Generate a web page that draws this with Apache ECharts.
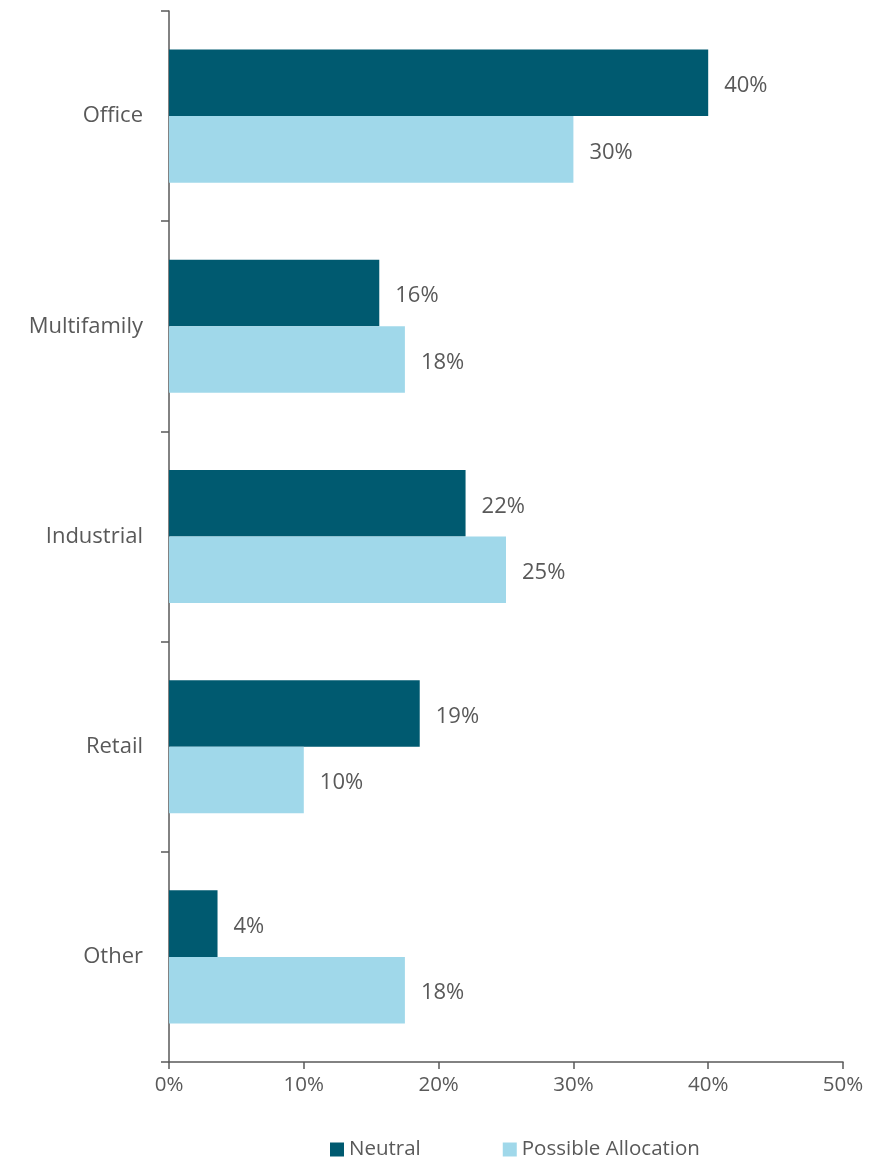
<!DOCTYPE html>
<html>
<head>
<meta charset="utf-8">
<script src="https://cdn.jsdelivr.net/npm/echarts@6/dist/echarts.min.js"></script>
<style>
  html, body { margin: 0; padding: 0; background: #fff; }
  #main { width: 878px; height: 1157px; }
</style>
</head>
<body>
<div id="main"></div>
<script>
const categories = ['Office', 'Multifamily', 'Industrial', 'Retail', 'Other']
const neutral = [40, 15.6, 22, 18.6, 3.6]
const possibleAllocation = [30, 17.5, 25, 10, 17.5]
const xTicks = [0, 10, 20, 30, 40, 50]

const AXIS_COLOR = '#595959'
const TEXT_COLOR = '#595959'
const FONT = '"Open Sans", "Noto Sans", sans-serif'

const chart = echarts.init(document.getElementById('main'))

const labelStyle = {
  show: true,
  position: 'right',
  distance: 16,
  offset: [0, 3],
  color: TEXT_COLOR,
  fontSize: 22,
  fontFamily: FONT,
  formatter: p => Math.round(p.value) + '%',
}

const option = {
  animation: false,
  textStyle: { fontFamily: FONT },
  grid: { left: 169, right: 35, top: 11, bottom: 95 },
  legend: {
    bottom: -3,
    left: 330,
    padding: 0,
    itemWidth: 14,
    itemHeight: 14,
    itemGap: 82,
    icon: 'rect',
    textStyle: { color: TEXT_COLOR, fontSize: 20.5, fontFamily: FONT },
    data: ['Neutral', 'Possible Allocation'],
  },
  xAxis: {
    type: 'value',
    min: xTicks[0],
    max: xTicks[xTicks.length - 1],
    interval: 10,
    splitLine: { show: false },
    axisLine: { show: true, lineStyle: { color: AXIS_COLOR, width: 1.5 } },
    axisTick: { show: true, length: 7, lineStyle: { color: AXIS_COLOR, width: 1.5 } },
    axisLabel: {
      color: TEXT_COLOR,
      fontSize: 20.5,
      fontFamily: FONT,
      margin: 13,
      formatter: v => v + '%',
    },
  },
  yAxis: {
    type: 'category',
    inverse: true,
    data: categories,
    axisLine: { show: true, lineStyle: { color: AXIS_COLOR, width: 1.5 } },
    axisTick: { show: true, length: 8, lineStyle: { color: AXIS_COLOR, width: 1.5 } },
    axisLabel: {
      color: TEXT_COLOR,
      fontSize: 22,
      fontFamily: FONT,
      margin: 26,
      padding: [4, 0, 0, 0],
    },
  },
  series: [
    {
      name: 'Neutral',
      type: 'bar',
      data: neutral,
      barGap: '0%',
      barCategoryGap: '36.7%',
      itemStyle: { color: '#005A70' },
      label: labelStyle,
    },
    {
      name: 'Possible Allocation',
      type: 'bar',
      data: possibleAllocation,
      barGap: '0%',
      barCategoryGap: '36.7%',
      itemStyle: { color: '#A0D8EA' },
      label: labelStyle,
    },
  ],
}

chart.setOption(option)
</script>
</body>
</html>
